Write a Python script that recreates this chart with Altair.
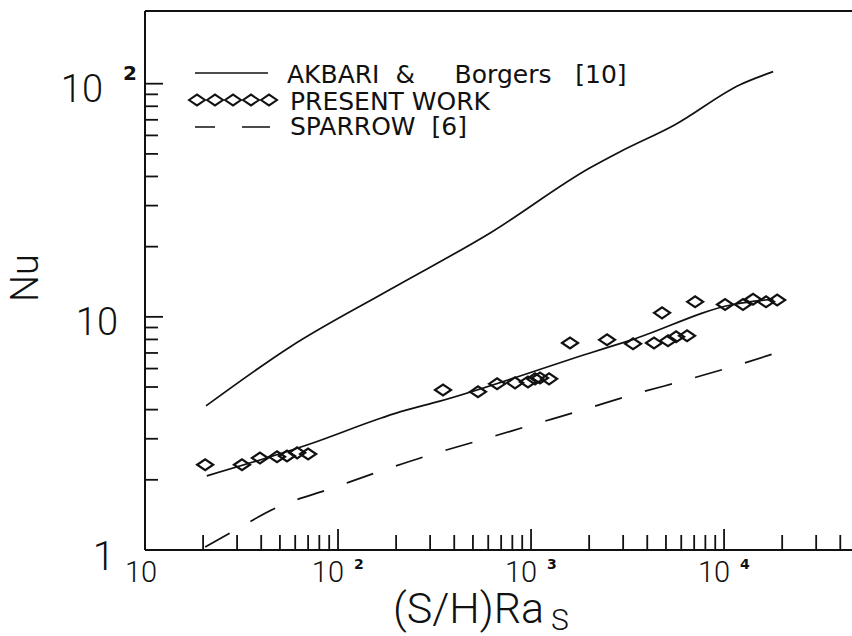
import altair as alt
import pandas as pd

# Akbari & Borgers [10] correlation
akbari_ra = [20.7, 56.4, 186, 614, 2023, 2893, 5570, 12100, 17950]
akbari_nu = [4.15, 7.43, 13.1, 22.9, 43.6, 51.1, 66.7, 99.0, 112.6]

# Fit through the present measurements
fit_ra = [20.9, 69, 169, 209, 337, 2023, 3300, 11150, 18000]
fit_nu = [2.08, 2.82, 3.69, 3.91, 4.35, 7.0, 7.95, 11.3, 11.9]

# Sparrow [6]
sparrow_ra = [20.5, 27.5, 48.8, 91, 161, 300, 557, 1012, 1858, 3456, 6430, 11830, 18570]
sparrow_nu = [1.03, 1.18, 1.53, 1.83, 2.16, 2.56, 2.97, 3.44, 3.99, 4.67, 5.37, 6.22, 7.0]

# Present work, measured points
exp_ra = [20.5, 31.8, 39.4, 48.3, 54.4, 61.4, 70.0, 350, 531, 667, 826, 964, 1049,
          1113, 1240, 1592, 2476, 3377, 4335, 4772, 5124, 5640, 6430, 7080, 10120,
          12530, 14130, 16500, 18840]
exp_nu = [2.32, 2.32, 2.48, 2.51, 2.53, 2.61, 2.58, 4.86, 4.77, 5.16, 5.21, 5.26, 5.42,
          5.47, 5.42, 7.73, 7.97, 7.66, 7.73, 10.4, 7.89, 8.21, 8.29, 11.6, 11.3,
          11.3, 11.9, 11.6, 11.8]

# Axis tick positions
x_minor = [20, 30, 40, 50, 60, 70, 80, 90, 200, 300, 400, 500, 600, 700, 800, 900,
           2000, 3000, 4000, 5000, 6000, 7000, 8000, 9000, 20000, 30000, 40000]
x_major = [100, 1000, 10000]
x_exp = ["2", "3", "4"]
y_minor = [2, 3, 4, 5, 6, 7, 8, 9, 20, 30, 40, 50, 60, 70, 80, 90]
y_major = [10, 100]

NB = "\u00a0"
legend_labels = ["AKBARI" + NB * 2 + "&" + NB * 5 + "Borgers" + NB * 3 + "[10]",
                 "PRESENT" + NB + "WORK", "SPARROW" + NB * 2 + "[6]"]

W, H = 707, 539
INK = "#111111"
LIGHT = dict(font="Roboto", fontWeight=300, color=INK)

xs = alt.Scale(type="log", domain=[10, 46000], nice=False)
ys = alt.Scale(type="log", domain=[1, 205], nice=False)


def curve(ra, nu, **style):
    df = pd.DataFrame({"ra": ra, "nu": nu})
    return alt.Chart(df).mark_line(color=INK, strokeWidth=1.7, clip=True,
                                   interpolate="monotone", **style).encode(
        x=alt.X("ra:Q", scale=xs, axis=None),
        y=alt.Y("nu:Q", scale=ys, axis=None),
        order=alt.Order("ra:Q"),
    )


akbari = curve(akbari_ra, akbari_nu)
fit = curve(fit_ra, fit_nu)
sparrow = curve(sparrow_ra, sparrow_nu, strokeDash=[28, 24])

DIAMOND = "M -1 0 L 0 -0.68 L 1 0 L 0 0.68 Z"
points = alt.Chart(pd.DataFrame({"ra": exp_ra, "nu": exp_nu})).mark_point(
    shape=DIAMOND, filled=False, color=INK, strokeWidth=2.2, size=256, opacity=1
).encode(x=alt.X("ra:Q", scale=xs, axis=None), y=alt.Y("nu:Q", scale=ys, axis=None))

# Frame: left axis, bottom axis and top edge
frame_style = dict(color=INK, strokeWidth=2)
left_edge = alt.Chart().mark_rule(**frame_style).encode(
    x=alt.value(0), y=alt.value(0), y2=alt.value(H))
bottom_edge = alt.Chart().mark_rule(**frame_style).encode(
    x=alt.value(0), x2=alt.value(W), y=alt.value(H))
top_edge = alt.Chart().mark_rule(**frame_style).encode(
    x=alt.value(0), x2=alt.value(W), y=alt.value(0))


def xticks(vals, length):
    return alt.Chart(pd.DataFrame({"v": vals})).mark_rule(color=INK, strokeWidth=1.8).encode(
        x=alt.X("v:Q", scale=xs, axis=None), y=alt.value(H), y2=alt.value(H - length))


def yticks(vals, length):
    return alt.Chart(pd.DataFrame({"v": vals})).mark_rule(color=INK, strokeWidth=1.8).encode(
        y=alt.Y("v:Q", scale=ys, axis=None), x=alt.value(0), x2=alt.value(length))


ticks = [xticks(x_minor, 15), xticks(x_major, 21), yticks(y_minor, 13), yticks(y_major, 18)]

# Tick labels
x_base = alt.Chart(pd.DataFrame({"v": x_major})).mark_text(
    fontSize=29, align="right", baseline="alphabetic", dx=6, **LIGHT
).encode(x=alt.X("v:Q", scale=xs, axis=None), y=alt.value(H + 32), text=alt.value("10"))
x_sup = alt.Chart(pd.DataFrame({"v": x_major, "e": x_exp})).mark_text(
    font="DejaVu Sans", fontWeight="bold", fontSize=14, align="left", baseline="alphabetic",
    dx=16, color=INK
).encode(x=alt.X("v:Q", scale=xs, axis=None), y=alt.value(H + 19), text="e:N")
x_ten = alt.Chart().mark_text(fontSize=29, align="left", baseline="alphabetic", **LIGHT).encode(
    x=alt.value(-20), y=alt.value(H + 32), text=alt.value("10"))

y_one = alt.Chart().mark_text(fontSize=40, align="right", baseline="alphabetic", **LIGHT).encode(
    x=alt.value(-30), y=alt.value(H + 20), text=alt.value("1"))
y_ten = alt.Chart(pd.DataFrame({"v": [10]})).mark_text(
    fontSize=38, align="right", baseline="alphabetic", dx=-27, dy=18, **LIGHT
).encode(x=alt.value(0), y=alt.Y("v:Q", scale=ys, axis=None), text=alt.value("10"))
y_hundred = alt.Chart(pd.DataFrame({"v": [100]})).mark_text(
    fontSize=38, align="right", baseline="alphabetic", dx=-42, dy=18, **LIGHT
).encode(x=alt.value(0), y=alt.Y("v:Q", scale=ys, axis=None), text=alt.value("10"))
y_hundred_sup = alt.Chart(pd.DataFrame({"v": [100]})).mark_text(
    font="DejaVu Sans", fontWeight="bold", fontSize=20, align="left", baseline="alphabetic",
    dx=-22, dy=-4, color=INK
).encode(x=alt.value(0), y=alt.Y("v:Q", scale=ys, axis=None), text=alt.value("2"))

# Axis titles
y_title = alt.Chart().mark_text(fontSize=38, angle=270, align="center", baseline="middle", **LIGHT).encode(
    x=alt.value(-118), y=alt.value(267), text=alt.value("Nu"))
x_title = alt.Chart().mark_text(fontSize=43, align="left", baseline="alphabetic", **LIGHT).encode(
    x=alt.value(248), y=alt.value(612), text=alt.value("(S/H)Ra"))
x_title_sub = alt.Chart().mark_text(fontSize=30, align="left", baseline="alphabetic", **LIGHT).encode(
    x=alt.value(406), y=alt.value(619), text=alt.value("S"))

# Legend in the upper left corner
leg_font = dict(font="DejaVu Sans", fontSize=25, align="left", baseline="alphabetic", color=INK)
legend_text = [
    alt.Chart().mark_text(**leg_font).encode(x=alt.value(142), y=alt.value(72), text=alt.value(legend_labels[0])),
    alt.Chart().mark_text(**leg_font).encode(x=alt.value(145), y=alt.value(99), text=alt.value(legend_labels[1])),
    alt.Chart().mark_text(**leg_font).encode(x=alt.value(145), y=alt.value(124), text=alt.value(legend_labels[2])),
]
legend_solid = alt.Chart().mark_rule(color=INK, strokeWidth=1.7).encode(
    x=alt.value(50), x2=alt.value(123), y=alt.value(62))
legend_dash = alt.Chart().mark_rule(color=INK, strokeWidth=1.7, strokeDash=[20, 27, 28]).encode(
    x=alt.value(50), x2=alt.value(125), y=alt.value(116))
legend_marks = alt.Chart(pd.DataFrame({"px": [52 + 18 * i for i in range(5)]})).mark_point(
    shape=DIAMOND, filled=False, color=INK, strokeWidth=2, size=256, opacity=1
).encode(x=alt.X("px:Q", scale=None), y=alt.value(89))

chart = alt.layer(
    akbari, fit, sparrow, points,
    left_edge, bottom_edge, top_edge, *ticks,
    x_base, x_sup, x_ten, y_one, y_ten, y_hundred, y_hundred_sup,
    y_title, x_title, x_title_sub,
    *legend_text, legend_solid, legend_dash, legend_marks,
).properties(
    width=W, height=H,
    autosize=alt.AutoSizeParams(type="none"),
    padding={"left": 145, "top": 11, "right": 0, "bottom": 86},
    background="white",
).configure_view(strokeWidth=0)

chart.save("out.html", embed_options={"renderer": "svg", "actions": False})
